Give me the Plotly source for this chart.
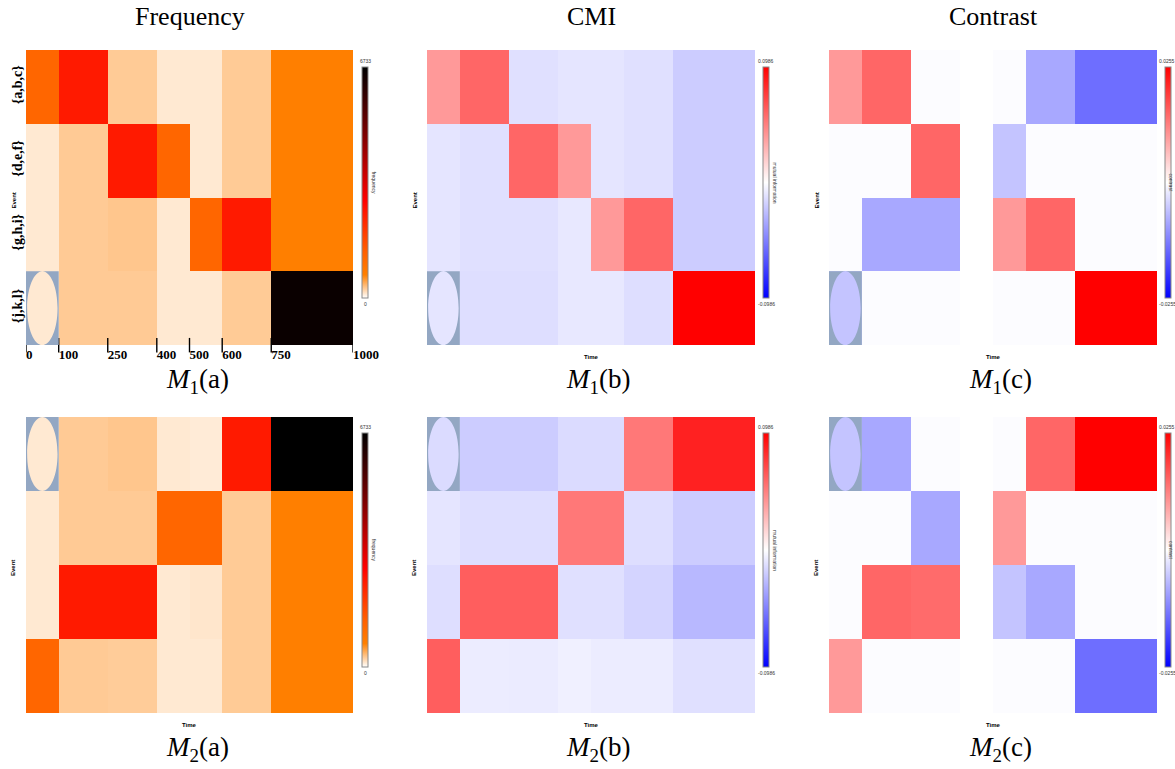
import plotly.graph_objects as go

W, H = 1175, 769

# ---------------- data ----------------
time_edges = [0, 100, 250, 400, 500, 600, 750, 1000]
time_ticktext = ["0", "100", "250", "400", "500", "600", "750", "1000"]
events = ["{a,b,c}", "{d,e,f}", "{g,h,i}", "{j,k,l}"]
event_edges = [0, 1, 2, 3, 4]

column_titles = ["Frequency", "CMI", "Contrast"]
row_models = ["1", "2"]
panel_letters = ["a", "b", "c"]

freq_max = 6733
freq_m1 = [
    [1215, 2460, 278, 118, 118, 278, 695],
    [118, 280, 2460, 1215, 118, 278, 695],
    [118, 280, 300, 118, 1215, 2460, 695],
    [118, 280, 280, 118, 118, 278, 6580],
]
freq_m2 = [
    [118, 280, 300, 118, 105, 2460, 6733],
    [118, 280, 280, 1215, 1215, 278, 695],
    [118, 2460, 2460, 118, 135, 278, 695],
    [1215, 280, 268, 118, 118, 278, 695],
]

cmi_max = 0.0986
cmi_m1 = [
    [0.0394, 0.0592, -0.0118, -0.0099, -0.0099, -0.0118, -0.0197],
    [-0.0099, -0.0118, 0.0592, 0.0394, -0.0099, -0.0118, -0.0197],
    [-0.0099, -0.0118, -0.0118, -0.0089, 0.0394, 0.0592, -0.0197],
    [-0.0099, -0.0128, -0.0128, -0.0089, -0.0089, -0.0128, 0.0986],
]
cmi_m2 = [
    [-0.0138, -0.0197, -0.0197, -0.0138, -0.0138, 0.0523, 0.0858],
    [-0.0099, -0.0128, -0.0128, 0.0523, 0.0523, -0.0128, -0.0197],
    [-0.0128, 0.0621, 0.0621, -0.0118, -0.0118, -0.0168, -0.0276],
    [0.0621, -0.0074, -0.0079, -0.0059, -0.0074, -0.0074, -0.0118],
]

con_max = 0.0255
con_m1 = [
    [0.0102, 0.0153, -0.0003, 0.0, -0.0003, -0.0087, -0.0145],
    [-0.0003, -0.0003, 0.0153, 0.0, -0.0059, -0.0003, -0.0003],
    [-0.0003, -0.0087, -0.0087, 0.0, 0.0102, 0.0153, -0.0003],
    [-0.0059, -0.0003, -0.0003, 0.0, -0.0003, -0.0003, 0.0255],
]
con_m2 = [
    [-0.0059, -0.0087, -0.0003, 0.0, -0.0003, 0.0153, 0.0255],
    [-0.0003, -0.0003, -0.0087, 0.0, 0.0102, -0.0003, -0.0003],
    [-0.0003, 0.0153, 0.0148, 0.0, -0.0059, -0.0087, -0.0003],
    [0.0102, -0.0003, -0.0003, 0.0, -0.0003, -0.0003, -0.0145],
]

# cell (row, col) marked with an ellipse in each model
marked_cell = {"1": (3, 0), "2": (0, 0)}

cbar_titles = ["frequency", "mutual information", "contrast"]
cbar_ranges = [(0, freq_max), (-cmi_max, cmi_max), (-con_max, con_max)]
cbar_labels = [("6733", "0"), ("0.0986", "-0.0986"), ("0.0255", "-0.0255")]

# ---------------- styles ----------------
freq_scale = [
    [0.0, "#ffffff"], [0.1, "#ff8000"], [0.2, "#ff6000"], [0.38, "#ff1400"],
    [0.42, "#ff0000"], [0.7, "#800000"], [1.0, "#000000"],
]
bwr_scale = [[0.0, "#0000ff"], [0.5, "#ffffff"], [1.0, "#ff0000"]]
scales = [freq_scale, bwr_scale, bwr_scale]

col_px = [(26, 353), (427, 755), (829, 1157)]
row_px = [(50, 345), (417, 713)]
cbar_px_x = [362, 763, 1165]
cbar_px_y = [(67, 298), (433, 667)]

SERIF = "Liberation Serif, Times New Roman, serif"
SANS = "Liberation Sans, Arial, sans-serif"


def fx(px):
    return px / W


def fy(py):
    return 1 - py / H


def label(text, x, y, size, family=SANS, color="black", weight="normal",
          angle=0, xanchor="center", yanchor="middle"):
    return dict(
        text=text, x=fx(x), y=fy(y), xref="paper", yref="paper",
        showarrow=False, textangle=angle, xanchor=xanchor, yanchor=yanchor,
        font=dict(family=family, size=size, color=color, weight=weight),
    )


data_grid = [
    [freq_m1, cmi_m1, con_m1],
    [freq_m2, cmi_m2, con_m2],
]

fig = go.Figure()
layout = {}
shapes = []
annotations = []

idx = 0
for r in range(2):
    for c in range(3):
        idx += 1
        xa = "x" if idx == 1 else f"x{idx}"
        ya = "y" if idx == 1 else f"y{idx}"
        zmin, zmax = cbar_ranges[c]
        fig.add_trace(go.Heatmap(
            z=data_grid[r][c], x=time_edges, y=event_edges,
            colorscale=scales[c], zmin=zmin, zmax=zmax,
            xaxis=xa, yaxis=ya, hoverongaps=False,
            colorbar=dict(
                x=fx(cbar_px_x[c]), xanchor="left", xpad=0,
                y=fy(cbar_px_y[r][0]), yanchor="top", ypad=0,
                len=cbar_px_y[r][1] - cbar_px_y[r][0], lenmode="pixels",
                thickness=6, thicknessmode="pixels",
                outlinewidth=1, outlinecolor="#8a8a8a",
                showticklabels=False, ticks="",
            ),
        ))
        x0p, x1p = col_px[c]
        y0p, y1p = row_px[r]
        show_ticks = (r == 0 and c == 0)
        xkey = "xaxis" if idx == 1 else f"xaxis{idx}"
        ykey = "yaxis" if idx == 1 else f"yaxis{idx}"
        layout[xkey] = dict(
            domain=[fx(x0p), fx(x1p)], anchor=ya, range=[0, 1000],
            showgrid=False, zeroline=False, showline=False, automargin=False,
            showticklabels=show_ticks, ticks="",
            tickvals=time_edges, ticktext=time_ticktext,
            ticklabelposition="outside right",
            tickfont=dict(family=SERIF, size=13, color="black", weight="bold"),
        )
        layout[ykey] = dict(
            domain=[fy(y1p), fy(y0p)], anchor=xa, range=[4, 0],
            showgrid=False, zeroline=False, showline=False, automargin=False,
            showticklabels=show_ticks, ticks="",
            tickvals=[e + 0.5 for e in event_edges[:-1]], ticktext=events,
            tickangle=-90,
            tickfont=dict(family=SERIF, size=14, color="black", weight="bold"),
        )
        # tick marks on the labelled frequency axis
        if show_ticks:
            for e in time_edges:
                shapes.append(dict(
                    type="line", xref=xa, yref=f"{ya} domain",
                    x0=e, x1=e, y0=-0.025, y1=0.024,
                    line=dict(color="black", width=1.4),
                ))
        # ellipse-marked cell
        mr, mc = marked_cell[row_models[r]]
        cx0, cx1 = time_edges[mc], time_edges[mc + 1]
        cy0, cy1 = event_edges[mr], event_edges[mr + 1]
        cx, cy = (cx0 + cx1) / 2, (cy0 + cy1) / 2
        rx, ry = (cx1 - cx0) / 2 * 0.93, (cy1 - cy0) / 2
        k = 0.5523
        rect = f"M{cx0},{cy0} L{cx1},{cy0} L{cx1},{cy1} L{cx0},{cy1} Z"
        ell = (
            f"M{cx + rx},{cy} "
            f"C{cx + rx},{cy + k * ry} {cx + k * rx},{cy + ry} {cx},{cy + ry} "
            f"C{cx - k * rx},{cy + ry} {cx - rx},{cy + k * ry} {cx - rx},{cy} "
            f"C{cx - rx},{cy - k * ry} {cx - k * rx},{cy - ry} {cx},{cy - ry} "
            f"C{cx + k * rx},{cy - ry} {cx + rx},{cy - k * ry} {cx + rx},{cy} Z"
        )
        shapes.append(dict(
            type="path", xref=xa, yref=ya, path=rect + " " + ell,
            fillrule="evenodd", fillcolor="#93a7c3", line=dict(width=0),
            layer="above",
        ))
        # Event label
        annotations.append(label("Event", x0p - 13, (y0p + y1p) / 2 + 3, 6,
                                 weight="bold", angle=-90))
        # Time label
        if not show_ticks:
            annotations.append(label("Time", (x0p + x1p) / 2, y1p + 12, 6,
                                     weight="bold"))
        # colorbar labels
        cbx = min(cbar_px_x[c] + 3, W - 8)
        top_lbl, bot_lbl = cbar_labels[c]
        annotations.append(label(top_lbl, cbx, cbar_px_y[r][0] - 1, 5,
                                 color="#333", yanchor="bottom"))
        annotations.append(label(bot_lbl, cbx, cbar_px_y[r][1] + 1, 5,
                                 color="#333", yanchor="top"))
        annotations.append(label(cbar_titles[c], min(cbar_px_x[c] + 12, W - 4),
                                 (cbar_px_y[r][0] + cbar_px_y[r][1]) / 2, 5,
                                 color="#333", angle=90))
        # subtitle
        annotations.append(label(
            f"<i>M</i><sub>{row_models[r]}</sub>({panel_letters[c]})",
            (x0p + cbar_px_x[c] + 6) / 2, y1p + 36, 27, family=SERIF))

for c in range(3):
    x0p, x1p = col_px[c]
    annotations.append(label(column_titles[c], (x0p + x1p) / 2, 17, 26,
                             family=SERIF))

fig.update_layout(
    width=W, height=H,
    margin=dict(l=0, r=0, t=0, b=0, pad=0, autoexpand=False),
    paper_bgcolor="white", plot_bgcolor="white",
    showlegend=False, shapes=shapes, annotations=annotations,
    **layout,
)

fig.write_html("out.html",
               config={"displayModeBar": False},
               post_script="document.body.style.margin='0';"
                           "document.body.style.overflow='hidden';")
